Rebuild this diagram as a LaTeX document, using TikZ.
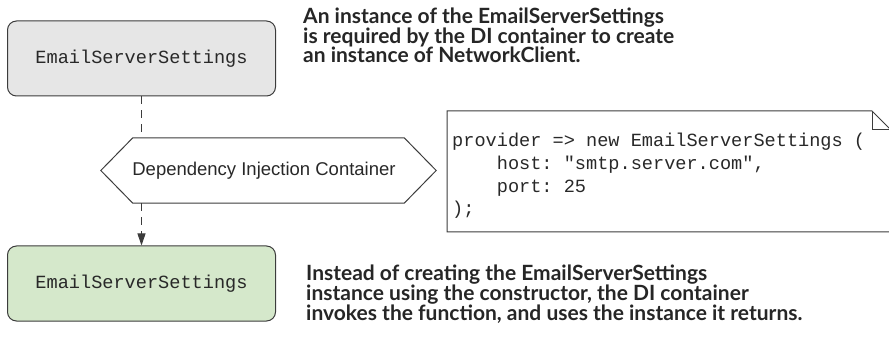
\documentclass[tikz,border=0pt]{standalone}
\usepackage{fontspec}
\setmainfont{Liberation Sans}
\newfontfamily\codefont{Liberation Mono}
\newfontfamily\notefont{Lato}
\usetikzlibrary{arrows.meta}
\definecolor{linegray}{RGB}{60,60,60}
\definecolor{textgray}{RGB}{40,40,40}
\definecolor{topfill}{RGB}{230,230,230}
\definecolor{botfill}{RGB}{213,232,203}
\tikzset{
  classbox/.style={draw=linegray, line width=1pt, rounded corners=9pt, minimum width=268pt, minimum height=75pt, inner sep=0pt, font=\codefont\fontsize{18.6pt}{22pt}\selectfont, text=textgray},
  dashlink/.style={draw=linegray, line width=1pt, dash pattern=on 8pt off 6pt},
  notetext/.style={anchor=base west, inner sep=0pt, align=left, font=\notefont\bfseries\fontsize{21pt}{19.8pt}\selectfont, text=black!85},
}
\begin{document}
\frenchspacing
\begin{tikzpicture}[x=1pt,y=-1pt]
\useasboundingbox (0,0) rectangle (889,339);
% boxes
\node[classbox, fill=topfill] (top) at (141.5,58.5) {EmailServerSettings};
\node[classbox, fill=botfill] (bot) at (141.5,283.5) {EmailServerSettings};
% hexagon container
\node[minimum width=335pt, minimum height=65pt, inner sep=0pt, font=\fontsize{18.5pt}{20pt}\selectfont, text=textgray] (di) at (268.5,170.5) {\hspace*{-9pt}Dependency Injection Container};
\draw[linegray, line width=1pt] (di.west) -- ([xshift=32pt]di.north west) -- ([xshift=-32pt]di.north east) -- (di.east) -- ([xshift=-32pt]di.south east) -- ([xshift=32pt]di.south west) -- cycle;
% connectors
\draw[dashlink] (top.south) -- (top.south |- di.north);
\draw[dashlink, -{Triangle[length=12pt,width=8pt]}] (top.south |- di.south) -- (bot.north);
% code note
\coordinate (ntl) at (447,111);
\coordinate (nbr) at (889.5,232);
\draw[linegray, line width=1pt] (ntl) -- (872,111) -- (889.5,128.5) -- (nbr) -- (ntl |- nbr) -- cycle;
\draw[linegray, line width=1pt] (872,111) -- (872,130) -- (889.5,130);
\node[anchor=north west, inner sep=0pt, align=left, font=\codefont\fontsize{18.6pt}{22.7pt}\selectfont, text=textgray] (code) at (452,133) {provider => new EmailServerSettings (\\\phantom{xxxx}host: "smtp.server.com",\\\phantom{xxxx}port: 25\\);};
% annotations
\node[notetext] (n1) at (303,63) {An instance of the EmailServerSettings\\is required by the DI container to create\\an instance of NetworkClient.};
\node[notetext] (n2) at (306,320) {Instead of creating the EmailServerSettings\\instance using the constructor, the DI container\\invokes the function, and uses the instance it returns.};
\end{tikzpicture}
\end{document}
